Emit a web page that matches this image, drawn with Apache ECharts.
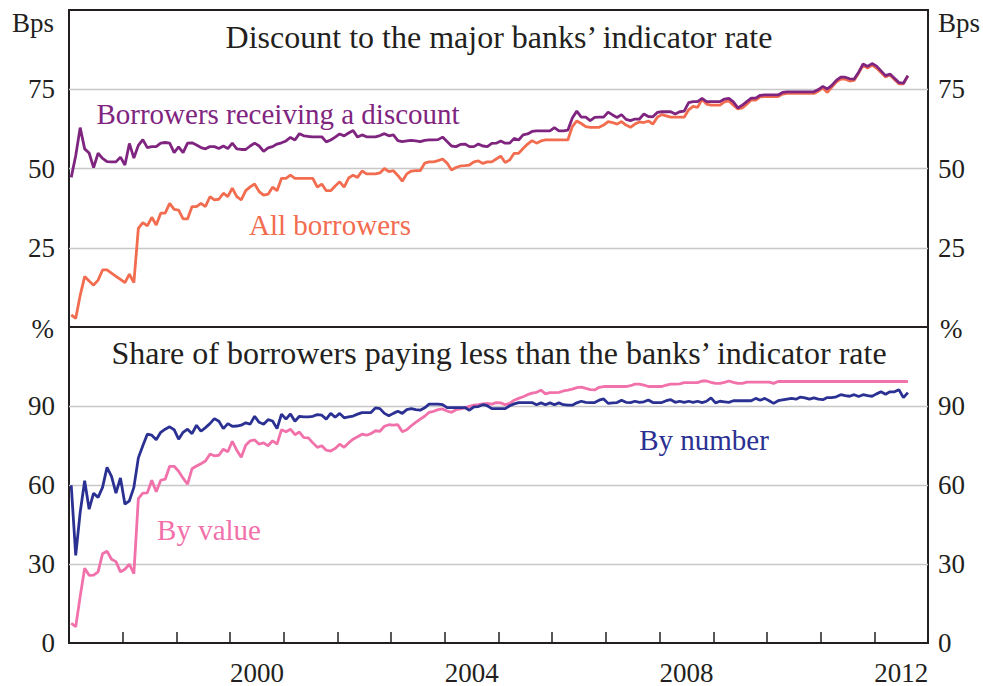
<!DOCTYPE html>
<html>
<head>
<meta charset="utf-8">
<script src="https://cdn.jsdelivr.net/npm/echarts@6/dist/echarts.min.js"></script>
<style>
html,body{margin:0;padding:0;background:#fff;}
#chart{width:983px;height:686px;}
</style>
</head>
<body>
<div id="chart"></div>
<script>
// Monthly observations, first month = January 1997
const startYear = 1997;

// Top panel: discount to the major banks' indicator rate (bps)
const allBorrowers = [
  3.8, 2.7, 10, 15.9, 14.5, 13.2, 14.8, 18, 18, 17, 16, 15,
  14, 16.7, 14, 31.1, 32.9, 31.9, 34.6, 32.2, 35.9, 35.9, 39, 37.1,
  36.9, 34.1, 34.1, 38, 38, 39, 38, 41.1, 40.1, 40.3, 42.2, 41.1,
  43.8, 41.1, 40.1, 43, 44.2, 45.1, 42.7, 41.6, 41.9, 44.1, 43, 46.9,
  46.9, 47.9, 46.9, 46.9, 46.9, 46.9, 46.9, 44.1, 45.1, 43, 43, 44.5,
  45.8, 44.1, 47, 47.9, 47.2, 49.2, 48.3, 48.3, 48.3, 48.6, 50, 49,
  49.3, 47.8, 46, 48.3, 49.2, 49.3, 49.3, 51.7, 52.1, 52.1, 52.5, 53,
  51.7, 49.5, 50.3, 50.8, 50.9, 51.1, 52.1, 52.4, 51.6, 52.1, 52.1, 53,
  53.9, 51.9, 52.7, 54.8, 54.8, 56.3, 57.7, 58.8, 58, 58.7, 59, 59,
  59, 59, 59, 59, 63.2, 65, 64.2, 63.2, 63, 63, 63, 63.7,
  64.8, 64.5, 64, 64.8, 63.7, 63, 64, 64.7, 64.5, 65, 64, 66.2,
  67, 66.6, 66.2, 66.2, 66.2, 66.2, 68.5, 69.6, 69.3, 71.8, 70.3, 70,
  70, 70, 71, 71.3, 70, 68.8, 69.1, 70.3, 71.6, 71.6, 72.6, 72.7,
  72.7, 72.7, 72.7, 73.5, 73.7, 73.7, 73.7, 73.7, 73.7, 73.7, 73.7, 74.4,
  75.4, 74, 75.7, 77.3, 78.2, 78.2, 77.6, 77.8, 80.1, 82.6, 81.7, 82.6,
  81.7, 80.3, 78.9, 79.5, 78.1, 76.7, 76.7, 79.2
];
const discountReceivers = [
  47.2, 54, 62.9, 56.2, 54.9, 50.3, 54.8, 53.2, 52.2, 52.1, 52.1, 53.6,
  51.1, 57.9, 53.3, 57.3, 59.1, 56.6, 56.9, 56.9, 58, 58.2, 58, 55,
  56.8, 55, 58, 58.1, 57.4, 56.6, 56.2, 56.9, 56.9, 56.3, 57.1, 56.3,
  58, 56.2, 56, 56, 57.1, 58, 57.1, 55.4, 56.5, 56.9, 57.7, 58.1,
  58.7, 59.8, 59, 61, 60.3, 60.1, 60, 60, 60, 58.4, 59, 59.9,
  60.9, 60.3, 61.2, 62, 59.9, 60.6, 60, 60, 60, 60.4, 61, 60.3,
  60.6, 58.8, 58.5, 58.7, 58.9, 58.7, 58.5, 58.9, 59, 59, 59.1, 59.9,
  58.5, 57.1, 56.9, 57.6, 57.7, 56.9, 56.9, 57.7, 57.1, 56.9, 57.9, 58,
  58.7, 58, 58, 59.5, 59, 60.6, 60.9, 61.7, 61.9, 61.9, 61.9, 61.9,
  62.9, 61.9, 61.9, 62.1, 65.9, 68.1, 66.2, 66.2, 65.1, 66.1, 66.2, 66.2,
  67.8, 66.9, 66.1, 67, 65.5, 65.1, 65.6, 65.6, 67.2, 66.4, 66.3, 67.7,
  67.9, 67.9, 67.9, 67.2, 67.9, 68.1, 70.8, 71.1, 71.1, 72.1, 71.1, 71.1,
  71.1, 71.1, 71.9, 72.1, 71, 69.1, 70, 71.1, 72.2, 72.2, 73.1, 73.2,
  73.2, 73.2, 73.2, 74, 74.2, 74.2, 74.2, 74.2, 74.2, 74.2, 74.2, 74.9,
  75.9, 75.1, 76.2, 77.8, 78.8, 78.8, 78.3, 78.2, 80.4, 83, 82.2, 83.1,
  82.3, 80.8, 79.3, 79.8, 78.5, 77.1, 76.9, 79.3
];

// Bottom panel: share of borrowers paying less than the indicator rate (%)
const byNumber = [
  59.9, 33.3, 49.6, 61.6, 50.8, 56.9, 55.3, 59.1, 66.7, 63.3, 56.9, 62.7,
  52.7, 54, 59.1, 70.3, 74.9, 79.3, 78.9, 77.2, 80, 81.2, 82.1, 81,
  77.4, 80, 81.2, 79.5, 82.7, 80.4, 81.8, 83.3, 85.2, 84.2, 81.4, 83.3,
  82.3, 82.4, 82.7, 83.6, 83.1, 86.1, 83.8, 83.1, 84.8, 84.3, 81.4, 86.9,
  85, 87, 84.2, 86.1, 85.9, 85.9, 86.1, 86.7, 86.5, 85, 87.2, 85.7,
  87.2, 85.5, 85.9, 86.2, 86.9, 87.5, 87.5, 87.5, 89.3, 89, 87.2, 86.3,
  87.2, 88, 87.2, 88.6, 89, 88.6, 88.4, 89.3, 90.7, 90.7, 90.7, 90.5,
  89.4, 89.4, 89.4, 89.4, 89.4, 88.4, 89.7, 89.8, 90.5, 90.1, 89, 89,
  89, 89, 90.1, 90.8, 91.3, 91.3, 91.3, 91.3, 90.5, 91.2, 90.5, 91.2,
  90.5, 91.2, 90.5, 90.3, 90.3, 91.2, 91.8, 91.4, 91.3, 91.3, 92.2, 92.7,
  91, 91.2, 91.3, 92.2, 91.4, 91.3, 91.8, 91.4, 91.6, 92.3, 91.3, 91.3,
  91.3, 92, 92.4, 91.4, 91.8, 91.4, 91.8, 91.4, 91.8, 91.3, 91.8, 93.1,
  91.2, 91.8, 91.6, 91.4, 92, 92, 92, 92, 92, 92.9, 92.2, 92.9,
  92, 91, 92, 92.3, 92.6, 92.9, 92.6, 93.4, 93.1, 92.6, 93.1, 92.6,
  92.4, 93.2, 93.2, 93.5, 94.3, 93.9, 93.7, 94.3, 93.6, 94.3, 93.9, 93.7,
  94.6, 95.4, 94.5, 95.4, 95.4, 96.2, 93.2, 95.1
];
const byValue = [
  7.5, 6.2, 17.7, 28.4, 25.7, 25.8, 27, 33.9, 34.9, 31.8, 30.9, 27,
  28, 29.9, 26.3, 54.8, 56.9, 57, 61.8, 57.4, 61.8, 62.2, 67.1, 67.1,
  65.2, 62.6, 60.3, 66.2, 67.2, 68.1, 69.1, 71.7, 71.1, 71.3, 73.6, 72.6,
  76.6, 73.2, 70.5, 75.1, 76.8, 77.1, 75.5, 76, 74.9, 76.8, 75.5, 81,
  80.2, 81.2, 79.1, 80.1, 78, 77.9, 76, 74.3, 74.9, 73.2, 72.9, 73.9,
  75.5, 74.3, 76, 77.4, 78.3, 79.3, 78.9, 79.5, 80.6, 80.4, 82.3, 82.9,
  82.7, 82.9, 80.2, 81, 82.5, 83.8, 85, 86.1, 87.6, 88, 88.6, 88.9,
  88.1, 87.6, 88.6, 88.9, 89.3, 89.9, 90.3, 90.5, 90.8, 91, 90.7, 91.3,
  91.2, 90.5, 91, 92.2, 92.9, 93.5, 94.3, 94.9, 95.2, 96, 94.6, 95.1,
  95.1, 95.2, 95.7, 96, 96.4, 97, 97.2, 96.7, 96.2, 96.1, 97.1, 97.4,
  97.4, 97.4, 97.4, 97.4, 97.4, 97.7, 98.3, 98.3, 97.9, 97.4, 97.4, 97.4,
  97.4, 97.9, 98.3, 98.3, 98.4, 98.9, 98.9, 98.9, 98.9, 99.5, 99.5, 99,
  98.6, 98.6, 99, 99.5, 99, 98.6, 98.6, 99.1, 99.1, 99.1, 99.1, 99.1,
  99.1, 98.6, 99.3, 99.3, 99.3, 99.3, 99.3, 99.3, 99.3, 99.3, 99.3, 99.3,
  99.3, 99.3, 99.3, 99.3, 99.3, 99.3, 99.3, 99.3, 99.3, 99.3, 99.3, 99.3,
  99.3, 99.3, 99.3, 99.3, 99.3, 99.3, 99.3, 99.3
];

const topTickLabels = [25, 50, 75];
const bottomTickLabels = [0, 30, 60, 90];
const yearLabels = [2000, 2004, 2008, 2012];

const topTitle = 'Discount to the major banks\u2019 indicator rate';
const bottomTitle = 'Share of borrowers paying less than the banks\u2019 indicator rate';

const FONT = '"Liberation Serif", "Times New Roman", Times, serif';
const INK = '#231f20';
const C_PURPLE = '#7f2580';
const C_ORANGE = '#f26c4f';
const C_PINK = '#f171ab';
const C_NAVY = '#2b3192';
const GRIDLINE = '#c8c8c8';

function pairs(vals) {
  return vals.map((v, i) => [startYear + (i + 0.5) / 12, v]);
}

const chart = echarts.init(document.getElementById('chart'), null, {renderer: 'svg'});

function yAx(grid, pos, max, interval, labels, margin, showSplit) {
  return {
    type: 'value', gridIndex: grid, position: pos, min: 0, max: max, interval: interval,
    axisLine: {show: false}, axisTick: {show: false},
    axisLabel: {
      margin: margin, fontSize: 27, fontFamily: FONT, color: INK,
      formatter: v => labels.includes(v) ? String(v) : ''
    },
    splitLine: {show: showSplit, showMinLine: false, showMaxLine: false,
      lineStyle: {color: GRIDLINE, width: 1.3}}
  };
}

function txt(x, y, text, size, color, align) {
  return {type: 'text', x: x, y: y, z: 100, silent: true,
    style: {text: text, fontSize: size, fontFamily: FONT, fill: color,
      align: align || 'center', verticalAlign: 'middle'}};
}

const option = {
  animation: false,
  backgroundColor: '#ffffff',
  grid: [
    {left: 69, right: 55, top: 10, height: 317, show: true, borderColor: INK, borderWidth: 2, backgroundColor: 'transparent'},
    {left: 69, right: 55, top: 327, height: 317, show: true, borderColor: INK, borderWidth: 2, backgroundColor: 'transparent'}
  ],
  xAxis: [
    {type: 'value', gridIndex: 0, min: 1997, max: 2013, interval: 1,
      axisLine: {show: false}, axisTick: {show: false}, axisLabel: {show: false}, splitLine: {show: false}},
    {type: 'value', gridIndex: 1, min: 1997, max: 2013, interval: 1,
      axisLine: {show: true, onZero: false, lineStyle: {color: INK, width: 2}},
      axisTick: {show: true, inside: true, length: 11, lineStyle: {color: INK, width: 1.5}},
      axisLabel: {
        margin: 16, fontSize: 27, fontFamily: FONT, color: INK,
        padding: [0, 0, 0, 53.7],
        showMinLabel: true, showMaxLabel: true,
        formatter: v => yearLabels.includes(v) ? String(v) : ''
      },
      splitLine: {show: false}}
  ],
  yAxis: [
    yAx(0, 'left', 100, 25, topTickLabels, 14, true),
    yAx(0, 'right', 100, 25, topTickLabels, 10, false),
    yAx(1, 'left', 120, 30, bottomTickLabels, 14, true),
    yAx(1, 'right', 120, 30, bottomTickLabels, 10, false)
  ],
  series: [
    {name: 'All borrowers', type: 'line', xAxisIndex: 0, yAxisIndex: 0, data: pairs(allBorrowers),
      showSymbol: false, lineStyle: {color: C_ORANGE, width: 2.8}, itemStyle: {color: C_ORANGE}, z: 3},
    {name: 'Borrowers receiving a discount', type: 'line', xAxisIndex: 0, yAxisIndex: 0, data: pairs(discountReceivers),
      showSymbol: false, lineStyle: {color: C_PURPLE, width: 2.8}, itemStyle: {color: C_PURPLE}, z: 4},
    {name: 'By value', type: 'line', xAxisIndex: 1, yAxisIndex: 2, data: pairs(byValue),
      showSymbol: false, lineStyle: {color: C_PINK, width: 2.8}, itemStyle: {color: C_PINK}, z: 3},
    {name: 'By number', type: 'line', xAxisIndex: 1, yAxisIndex: 2, data: pairs(byNumber),
      showSymbol: false, lineStyle: {color: C_NAVY, width: 2.8}, itemStyle: {color: C_NAVY}, z: 4}
  ],
  graphic: [
    txt(54, 23, 'Bps', 27, INK, 'right'),
    txt(938, 23, 'Bps', 27, INK, 'left'),
    txt(54, 329, '%', 27, INK, 'right'),
    txt(940, 329, '%', 27, INK, 'left'),
    txt(499, 37, topTitle, 32, INK),
    txt(499, 353, bottomTitle, 32, INK),
    txt(278, 114, 'Borrowers receiving a discount', 29, C_PURPLE),
    txt(330, 225, 'All borrowers', 29, C_ORANGE),
    txt(209, 530, 'By value', 29, C_PINK),
    txt(704, 440, 'By number', 29, C_NAVY)
  ]
};
chart.setOption(option);
</script>
</body>
</html>
